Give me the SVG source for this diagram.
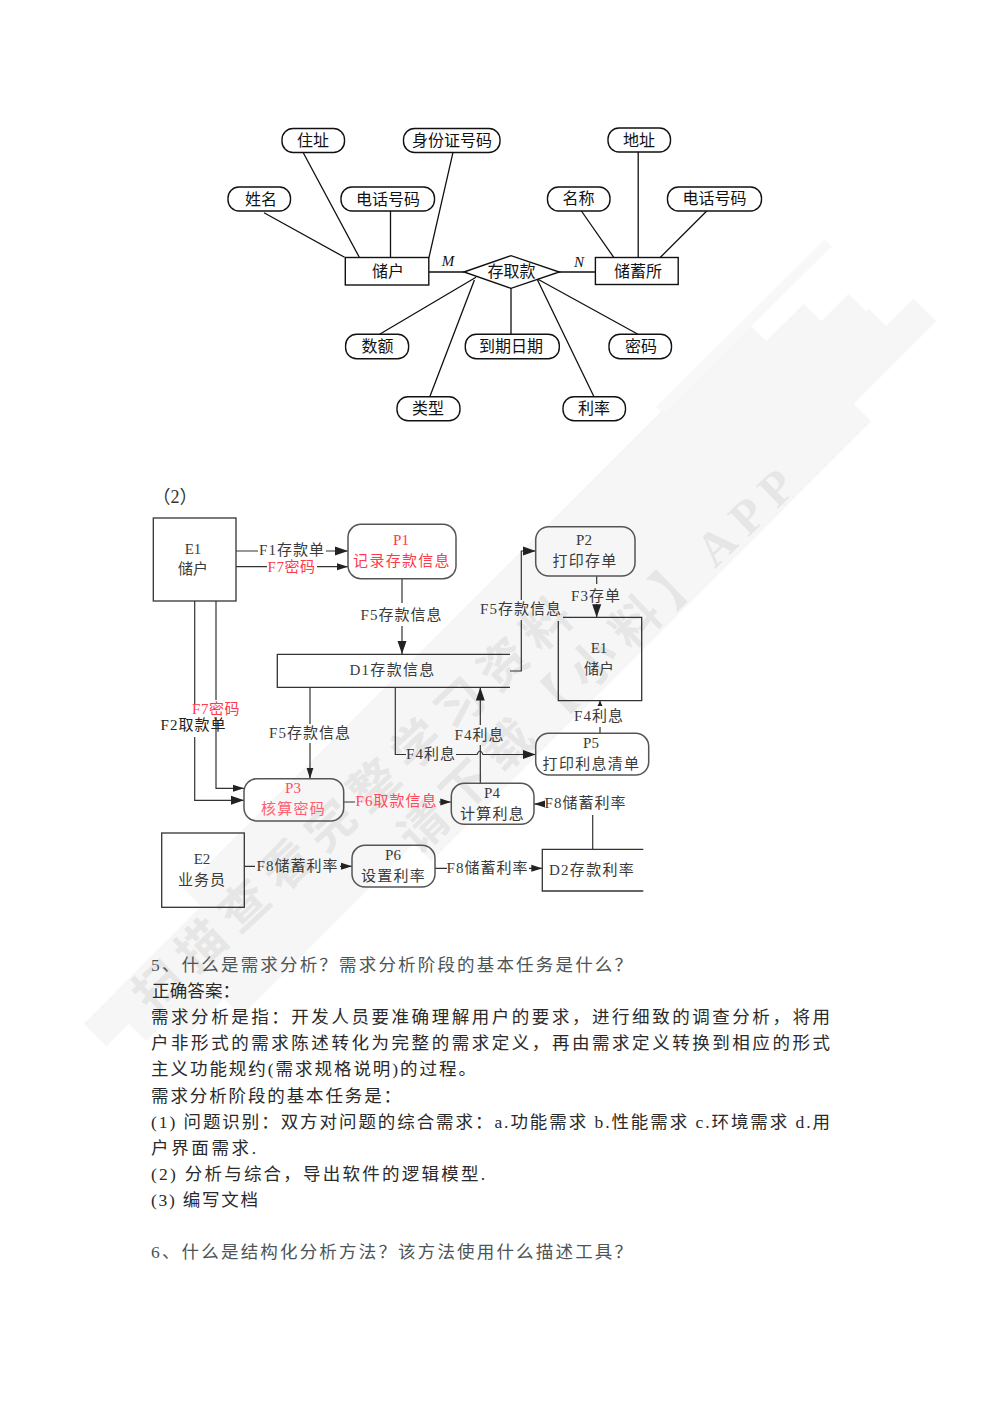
<svg xmlns="http://www.w3.org/2000/svg" width="993" height="1404" viewBox="0 0 993 1404">
<style>
text{font-family:"Liberation Serif","Noto Sans CJK SC",serif;text-anchor:middle}
.er{font-size:16px;fill:#111}
.d{font-size:15px;fill:#3a3a3a}
.r{font-size:15px;fill:#ff3a4a}
.b{font-size:17.5px;fill:#2a2a2a;text-anchor:start}
.q{fill:#4d5558}
.wm{font-size:48px;fill:#e6e6e6;font-weight:700;text-anchor:start;letter-spacing:11px}
.es{fill:#fff;stroke:#111;stroke-width:1.4}
.el{stroke:#111;stroke-width:1.3;fill:none}
.bx{fill:none;stroke:#333;stroke-width:1.3}
.rb{fill:none;stroke:#555;stroke-width:1.5}
.c{stroke:#333;stroke-width:1.2;fill:none}
.bd{stroke:#f6f6f6;fill:none;stroke-width:32}
</style>
<defs>
<marker id="al" markerUnits="userSpaceOnUse" markerWidth="13" markerHeight="10" refX="13" refY="5" orient="auto"><path d="M0,0.5L13,5L0,9.5Z" fill="#222"/></marker>
<marker id="as" markerUnits="userSpaceOnUse" markerWidth="11" markerHeight="8" refX="11" refY="4" orient="auto"><path d="M0,0.5L11,4L0,7.5Z" fill="#222"/></marker>
<marker id="at" markerUnits="userSpaceOnUse" markerWidth="5" markerHeight="6" refX="5" refY="3" orient="auto"><path d="M0,0.5L5,3L0,5.500Z" fill="#222"/></marker>
</defs>
<rect width="993" height="1404" fill="#fff"/>
<g id="watermark">
<path class="bd" d="M195,900L760,335"/>
<path class="bd" d="M95,1035L815,315"/>
<path class="bd" d="M135,1030L860,305"/>
<path class="bd" d="M170,1030L880,320"/>
<path class="bd" d="M230,1005L925,310"/>
<path class="bd" d="M420,850L860,410"/>
<path d="M660,410L828,243" stroke="#f8f8f8" stroke-width="10" fill="none"/>
<text class="wm" transform="translate(152,1015) rotate(-43)">扫描查看完整学习资料</text>
<text class="wm" transform="translate(418,856) rotate(-44)">请下载【小料】APP</text>
</g>
<g id="connectors">
<path class="el" d="M264,212.7L344.6,257.3M303,152.3L359.3,257.3M390.5,211V257.3M453,152.3L429,257.3M428.8,272H464M581.4,211L613.7,257.3M638.2,152V257.3M707,210.7L660.4,257.3M559,272H595.4M476,277.3L379.6,334.3M474.4,280L429.8,396.7M511,288V334.3M537.5,280L594,396.7M537.5,279L637.5,334"/>
<path class="c" d="M236,551H258M326,551H348" marker-end="url(#al)"/>
<path class="c" d="M236,566.7H267M317,566.7H348" marker-end="url(#as)"/>
<path class="c" d="M402,578.7V603M402,626V654" marker-end="url(#al)"/>
<path class="c" d="M510,671H521.3V620M521.3,600V551H535.7" marker-end="url(#al)"/>
<path class="c" d="M596.7,576V584M596.7,604V617.3" marker-end="url(#al)"/>
<path class="c" d="M600,733V727M600,706V701" marker-end="url(#at)"/>
<path class="c" d="M194.7,601V704M194.7,737V800.3H244" marker-end="url(#al)"/>
<path class="c" d="M216,601V700M216,717V788.3H244" marker-end="url(#as)"/>
<path class="c" d="M310,687.3V724M310,743V778.7" marker-end="url(#as)"/>
<path class="c" d="M395.3,687.3V754.5H406M456,754.5H477q3,-7 6,0H535.7" marker-end="url(#al)"/>
<path class="c" d="M480.3,783.3V745M480.3,725V687.5" marker-end="url(#al)"/>
<path class="c" d="M343.7,802H355M439,802H451.3" marker-end="url(#as)"/>
<path class="c" d="M592.7,849.3V815"/>
<path class="c" d="M544,804H534" marker-end="url(#as)"/>
<path class="c" d="M244.3,866.3H255M340,866.3H352" marker-end="url(#as)"/>
<path class="c" d="M435,868.3H447M529,868.3H542.3" marker-end="url(#as)"/>
</g>
<g id="er-zhuzhi"><rect class="es" x="282" y="128.5" width="62.5" height="24" rx="11"/><text class="er" x="313" y="146">住址</text></g>
<g id="er-sfz"><rect class="es" x="403.5" y="128.5" width="96.5" height="24" rx="11"/><text class="er" x="452" y="146">身份证号码</text></g>
<g id="er-dizhi"><rect class="es" x="608" y="128" width="62.5" height="24" rx="11"/><text class="er" x="639" y="146">地址</text></g>
<g id="er-xingming"><rect class="es" x="228" y="187" width="62.5" height="24" rx="11"/><text class="er" x="261" y="204.500">姓名</text></g>
<g id="er-dh1"><rect class="es" x="341" y="187" width="93.500" height="24" rx="11"/><text class="er" x="388" y="204.500">电话号码</text></g>
<g id="er-mingcheng"><rect class="es" x="547.500" y="187" width="62.5" height="24" rx="11"/><text class="er" x="578.500" y="204">名称</text></g>
<g id="er-dh2"><rect class="es" x="667.500" y="187" width="94" height="24" rx="11"/><text class="er" x="714.500" y="204">电话号码</text></g>
<g id="er-chuhu"><rect class="es" x="345.300" y="257.500" width="83.500" height="27.500"/><text class="er" x="388" y="277">储户</text></g>
<g id="er-cqk"><path class="es" d="M464,272L511,255.700L559.300,272L511,288.300Z"/><text class="er" x="511.500" y="277">存取款</text></g>
<g id="er-cxs"><rect class="es" x="595.400" y="257.500" width="82.800" height="27"/><text class="er" x="638" y="277">储蓄所</text></g>
<text x="448" y="266" font-size="15" font-style="italic" fill="#111" style="font-family:'Liberation Serif',serif">M</text>
<text x="579" y="267" font-size="15" font-style="italic" fill="#111" style="font-family:'Liberation Serif',serif">N</text>
<g id="er-shue"><rect class="es" x="345.600" y="334.300" width="63" height="24.400" rx="11"/><text class="er" x="377.500" y="352">数额</text></g>
<g id="er-dqrq"><rect class="es" x="465.300" y="334.300" width="94" height="24.400" rx="11"/><text class="er" x="511" y="352">到期日期</text></g>
<g id="er-mima"><rect class="es" x="609" y="334.300" width="62.500" height="24.400" rx="11"/><text class="er" x="641" y="352">密码</text></g>
<g id="er-leixing"><rect class="es" x="397" y="396.700" width="63" height="24" rx="11"/><text class="er" x="428" y="414">类型</text></g>
<g id="er-lilv"><rect class="es" x="563" y="396.700" width="62.500" height="24" rx="11"/><text class="er" x="594" y="414">利率</text></g>
<text x="175" y="503" font-size="18" fill="#333">（2）</text>
<g id="E1a"><rect class="bx" x="153.300" y="518" width="82.700" height="83"/><text class="d" x="193" y="554">E1</text><text class="d" x="193" y="574">储户</text></g>
<g id="P1"><rect class="rb" x="348" y="524.300" width="108" height="54.400" rx="13"/><text class="r" x="401" y="545">P1</text><text class="r" x="402" y="566" letter-spacing="1.300">记录存款信息</text></g>
<g id="P2"><rect class="rb" x="535.700" y="526.700" width="99.300" height="49.300" rx="13"/><text class="d" x="584" y="545">P2</text><text class="d" x="585" y="566" letter-spacing="1.300">打印存单</text></g>
<g id="E1b"><path class="bx" d="M563,617.300H641.700V700.700H558.300V621"/><text class="d" x="599" y="653">E1</text><text class="d" x="599" y="674">储户</text></g>
<g id="D1"><path class="bx" d="M510,654.300H277.300V687.300H510"/><text class="d" x="392.500" y="675" letter-spacing="1.300">D1存款信息</text></g>
<g id="P3"><rect class="rb" x="244" y="778.700" width="99.700" height="42.300" rx="13"/><text class="r" x="293" y="793" style="fill:#ff5060">P3</text><text class="r" x="293.500" y="814" letter-spacing="1.300" style="fill:#ff6070">核算密码</text></g>
<g id="P4"><rect class="rb" x="451.300" y="783.300" width="82.700" height="41" rx="13"/><text class="d" x="492" y="798">P4</text><text class="d" x="492.500" y="819" letter-spacing="1.300">计算利息</text></g>
<g id="P5"><rect class="rb" x="535.700" y="733.300" width="113" height="41.700" rx="13"/><text class="d" x="591" y="748">P5</text><text class="d" x="591.500" y="769" letter-spacing="1.300">打印利息清单</text></g>
<g id="E2"><rect class="bx" x="161.700" y="833" width="82.600" height="74.300"/><text class="d" x="202" y="864">E2</text><text class="d" x="202" y="885" letter-spacing="1">业务员</text></g>
<g id="P6"><rect class="rb" x="352" y="845.300" width="83" height="41.700" rx="13"/><text class="d" x="393" y="860">P6</text><text class="d" x="393.500" y="881" letter-spacing="1.300">设置利率</text></g>
<g id="D2"><path class="bx" d="M643.300,849.300H542.300V891H643.300"/><text class="d" x="592" y="875" letter-spacing="1.300">D2存款利率</text></g>
<g id="flow-labels">
<text class="d" x="292" y="555" letter-spacing="1">F1存款单</text>
<text class="r" x="291.500" y="571.500" letter-spacing="0.500">F7密码</text>
<text class="d" x="401.500" y="620" letter-spacing="1">F5存款信息</text>
<text class="d" x="521" y="614" letter-spacing="1">F5存款信息</text>
<text class="d" x="596" y="601" letter-spacing="1">F3存单</text>
<text class="r" x="216" y="714" letter-spacing="0.500">F7密码</text>
<text class="d" x="193.500" y="730" letter-spacing="1" style="fill:#222">F2取款单</text>
<text class="d" x="310" y="738" letter-spacing="1">F5存款信息</text>
<text class="d" x="431" y="759" letter-spacing="1">F4利息</text>
<text class="d" x="479.500" y="740" letter-spacing="1">F4利息</text>
<text class="d" x="599" y="721" letter-spacing="1">F4利息</text>
<text class="r" x="396.500" y="806" letter-spacing="1" style="fill:#ff4a5a">F6取款信息</text>
<text class="d" x="585.500" y="808" letter-spacing="1">F8储蓄利率</text>
<text class="d" x="297.500" y="871" letter-spacing="1">F8储蓄利率</text>
<text class="d" x="487.500" y="873" letter-spacing="1">F8储蓄利率</text>
</g>
<g id="body">
<text class="b q" x="151" y="971" textLength="481">5、什么是需求分析？需求分析阶段的基本任务是什么？</text>
<text class="b" x="152" y="997" textLength="88">正确答案：</text>
<text class="b" x="151" y="1023" textLength="679">需求分析是指：开发人员要准确理解用户的要求，进行细致的调查分析，将用</text>
<text class="b" x="151" y="1049" textLength="679">户非形式的需求陈述转化为完整的需求定义，再由需求定义转换到相应的形式</text>
<text class="b" x="151" y="1075" textLength="325">主义功能规约(需求规格说明)的过程。</text>
<text class="b" x="151" y="1102" textLength="250">需求分析阶段的基本任务是：</text>
<text class="b" x="151" y="1128" textLength="679">(1) 问题识别：双方对问题的综合需求：a.功能需求 b.性能需求 c.环境需求 d.用</text>
<text class="b" x="151" y="1154" textLength="105">户界面需求.</text>
<text class="b" x="151" y="1180" textLength="334">(2) 分析与综合，导出软件的逻辑模型.</text>
<text class="b" x="151" y="1206" textLength="107">(3) 编写文档</text>
<text class="b q" x="151" y="1258" textLength="481">6、什么是结构化分析方法？该方法使用什么描述工具？</text>
</g>
</svg>
